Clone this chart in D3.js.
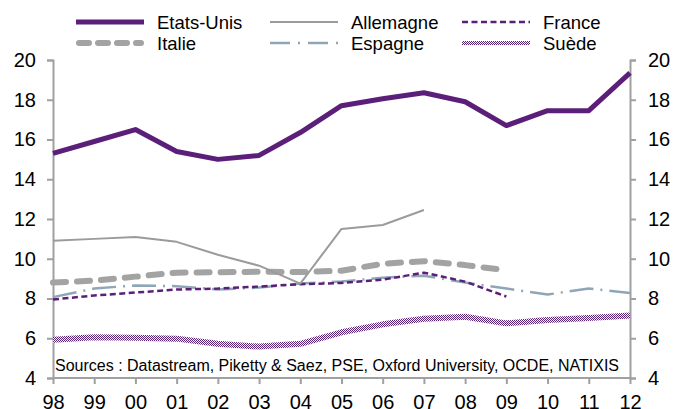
<!DOCTYPE html>
<html><head><meta charset="utf-8">
<script src="https://cdn.jsdelivr.net/npm/d3@7/dist/d3.min.js"></script>
<style>
html,body{margin:0;padding:0;background:#fff;}
svg{display:block;font-family:"Liberation Sans",Arial,sans-serif;}
</style></head>
<body>
<svg id="c" width="674" height="409"></svg>
<script>
const years = ["98","99","00","01","02","03","04","05","06","07","08","09","10","11","12"];
const yTicks = [4,6,8,10,12,14,16,18,20];
const etatsUnis = [15.3,15.9,16.5,15.4,15.0,15.2,16.35,17.7,18.05,18.35,17.9,16.7,17.45,17.45,19.35];
const allemagne = [10.9,11.0,11.1,10.85,10.2,9.65,8.75,11.5,11.7,12.45,null,null,null,null,null];
const france = [7.95,8.15,8.3,8.45,8.5,8.6,8.72,8.78,8.95,9.3,8.85,8.1,null,null,null];
const italie = [8.8,8.9,9.1,9.3,9.32,9.35,9.33,9.4,9.75,9.88,9.68,9.42,null,null,null];
const espagne = [8.07,8.5,8.66,8.62,8.45,8.55,8.75,8.85,9.05,9.15,8.8,8.5,8.2,8.5,8.28];
const suede = [5.92,6.05,6.02,5.98,5.72,5.58,5.72,6.3,6.7,6.98,7.08,6.75,6.92,7.02,7.15];
const sourceText = "Sources : Datastream, Piketty & Saez, PSE, Oxford University, OCDE, NATIXIS";

const purple = "#5b1f79";
const grey = "#9b9b9b";
const greyLight = "#a3a3a3";
const blueGrey = "#8ea6b6";
const axisCol = "#a0a0a0";

const svg = d3.select("#c");
const defs = svg.append("defs");
const pat = defs.append("pattern").attr("id","checker").attr("patternUnits","userSpaceOnUse")
  .attr("width",2).attr("height",2);
pat.append("rect").attr("width",2).attr("height",2).attr("fill","#fff");
pat.append("rect").attr("x",0).attr("y",0).attr("width",1).attr("height",1).attr("fill",purple);
pat.append("rect").attr("x",1).attr("y",1).attr("width",1).attr("height",1).attr("fill",purple);

const x = d3.scalePoint().domain(years).range([53,630]);
const y = d3.scaleLinear().domain([4,20]).range([378,60]);

// axes
const gl = svg.append("g").attr("transform","translate(53,0)")
  .call(d3.axisLeft(y).tickValues(yTicks).tickSize(6).tickPadding(11).tickFormat(d3.format("d")));
const gr = svg.append("g").attr("transform","translate(630,0)")
  .call(d3.axisRight(y).tickValues(yTicks).tickSize(6).tickPadding(12).tickFormat(d3.format("d")));
const gb = svg.append("g").attr("transform","translate(0,378)")
  .call(d3.axisBottom(x).tickSize(6).tickPadding(11));
[gl,gr,gb].forEach(g=>{
  g.select(".domain").attr("stroke",axisCol).attr("stroke-width",2);
  g.selectAll(".tick line").attr("stroke",axisCol).attr("stroke-width",2);
  g.selectAll(".tick text").attr("fill","#000").attr("font-size",20)
   .attr("font-family","'Liberation Sans',Arial,sans-serif");
});
gb.select(".domain").attr("d","M53,0H630");
gb.selectAll(".tick text").attr("dy","0.71em");

const line = d3.line().defined(d=>d.v!=null).x(d=>x(d.k)).y(d=>y(d.v));
const mk = arr => years.map((k,i)=>({k,v:arr[i]}));

const series = [
  {name:"Suède", data:suede, stroke:"url(#checker)", w:6, dash:null, cap:"butt"},
  {name:"Espagne", data:espagne, stroke:blueGrey, w:2.5, dash:"24,7,2,7", cap:"butt"},
  {name:"France", data:france, stroke:purple, w:2.5, dash:"6,3.5", cap:"butt"},
  {name:"Italie", data:italie, stroke:greyLight, w:6, dash:"13,11", cap:"round"},
  {name:"Allemagne", data:allemagne, stroke:grey, w:2, dash:null, cap:"butt"},
  {name:"Etats-Unis", data:etatsUnis, stroke:purple, w:5, dash:null, cap:"butt"}
];
series.forEach(s=>{
  svg.append("path").datum(mk(s.data)).attr("d",line)
    .attr("fill","none").attr("stroke",s.stroke).attr("stroke-width",s.w)
    .attr("stroke-dasharray",s.dash).attr("stroke-linecap",s.cap).attr("stroke-linejoin","round");
});

svg.append("text").attr("x",55).attr("y",371).attr("font-size",16).attr("fill","#000").text(sourceText);

// legend
const legend = [
  {name:"Etats-Unis", col:0, row:0},
  {name:"Allemagne", col:1, row:0},
  {name:"France", col:2, row:0},
  {name:"Italie", col:0, row:1},
  {name:"Espagne", col:1, row:1},
  {name:"Suède", col:2, row:1}
];
const colX = [76,270,462];
const rowY = [22,43];
legend.forEach(l=>{
  const s = series.find(d=>d.name===l.name);
  const x0 = colX[l.col], yy = rowY[l.row];
  const isIt = l.name==="Italie";
  svg.append("line").attr("x1",x0+(isIt?3:0)).attr("x2",x0+68-(isIt?3:0)).attr("y1",yy).attr("y2",yy)
    .attr("stroke",s.stroke).attr("stroke-width",l.name==="Suède"?4:s.w)
    .attr("stroke-dasharray",isIt?"10,9":(l.name==="Espagne"?"20,8,2,8":s.dash))
    .attr("stroke-linecap",s.cap);
  svg.append("text").attr("x",x0+81).attr("y",yy+6.5).attr("font-size",18.5).attr("fill","#000").text(l.name);
});
</script>
</body></html>
